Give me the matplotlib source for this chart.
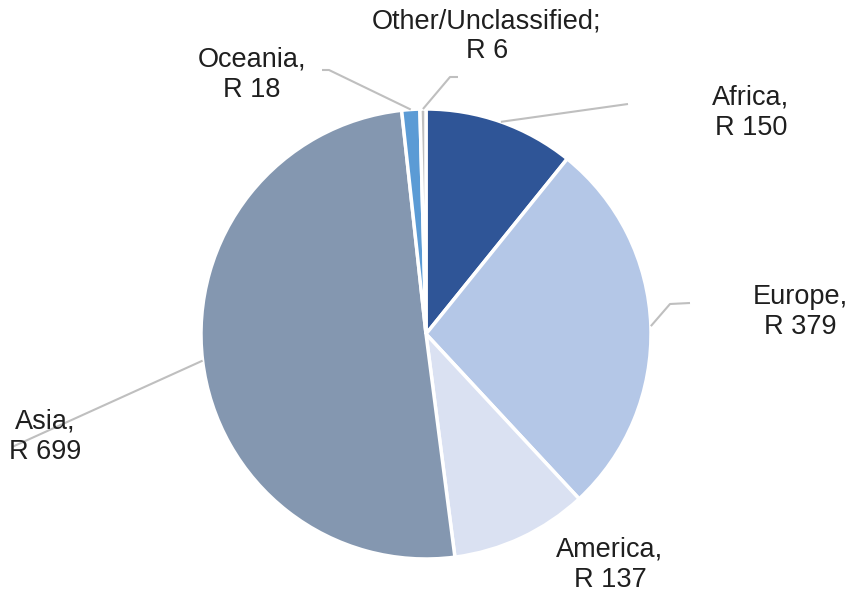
import numpy as np
import matplotlib.pyplot as plt

regions = ["Africa", "Europe", "America", "Asia", "Oceania", "Other/Unclassified"]
values = [150, 379, 137, 699, 18, 6]
labels = ["Africa,\nR 150", "Europe,\nR 379", "America,\nR 137",
          "Asia,\nR 699", "Oceania,\nR 18", "Other/Unclassified;\nR 6"]
colors = ["#2F5597", "#B4C7E7", "#DAE1F2", "#8497B0", "#5B9BD5", "#C0C0C0"]

plt.rcParams['font.family'] = ['Liberation Sans', 'DejaVu Sans']

W, H = 857, 596
fig = plt.figure(figsize=(W / 100, H / 100), dpi=100)
ax = fig.add_axes([0, 0, 1, 1])

cx, cy, R = 426, H - 334, 225
wedges, _ = ax.pie(values, colors=colors, startangle=90, counterclock=False,
                   center=(cx, cy), radius=R, frame=True,
                   wedgeprops=dict(edgecolor="white", linewidth=2.5))
ax.set_xlim(0, W)
ax.set_ylim(0, H)
ax.axis("off")

# label text centre, leader path (elbow points) per slice, in pixel coords (y down)
text_pos = [(751, 113), (800, 312), (610, 565), (45, 437), (252, 75), (487, 36)]
elbows = [[(628, 104)], [(670, 304), (690, 303)], [], [(12, 447)],
          [(329, 70), (322, 70)], [(450, 77), (458, 77)]]

for w, lab, tp, el in zip(wedges, labels, text_pos, elbows):
    ang = np.deg2rad((w.theta1 + w.theta2) / 2)
    x0 = cx + R * np.cos(ang)
    y0 = cy + R * np.sin(ang)
    if el:
        xs = [x0] + [p[0] for p in el]
        ys = [y0] + [H - p[1] for p in el]
        ax.plot(xs, ys, color="#BFBFBF", lw=1.5, zorder=1, solid_capstyle="butt")
    ax.text(tp[0], H - tp[1], lab, ha="center", va="center", fontsize=19.5,
            color="#1F1F1F", linespacing=1.2, zorder=3)

fig.savefig("out.png", dpi=100)
